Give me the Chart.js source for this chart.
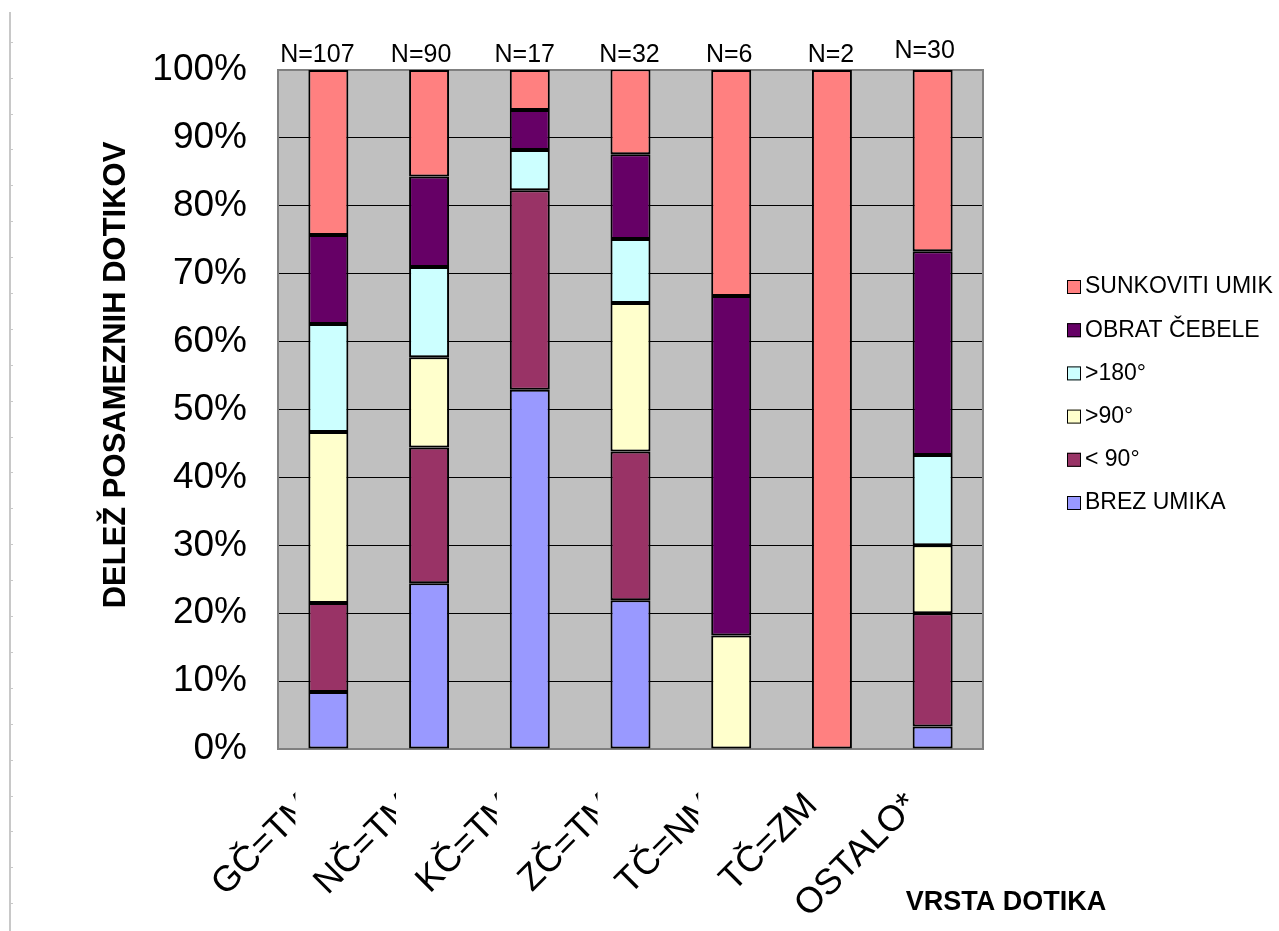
<!DOCTYPE html>
<html>
<head>
<meta charset="utf-8">
<script src="https://cdn.jsdelivr.net/npm/chart.js@4.4.1/dist/chart.umd.min.js"></script>
<style>
  html, body { margin: 0; padding: 0; background: #ffffff; }
  #wrap { position: relative; width: 1279px; height: 931px; }
</style>
</head>
<body>
<div id="wrap"><canvas id="c" width="1279" height="931"></canvas></div>
<script>
// ---- data ----
const categories = ['GČ=TM', 'NČ=TM', 'KČ=TM', 'ZČ=TM', 'TČ=NM', 'TČ=ZM', 'OSTALO*'];
const nCounts = [107, 90, 17, 32, 6, 2, 30];
const seriesNames = ['BREZ UMIKA', '< 90°', '>90°', '>180°', 'OBRAT ČEBELE', 'SUNKOVITI UMIK'];
const brezUmika = [8.4, 24.4, 52.9, 21.9, 0, 0, 3.3];
const manj90 = [13.1, 20.0, 29.4, 21.9, 0, 0, 16.7];
const vec90 = [25.2, 13.3, 0, 21.9, 16.7, 0, 10.0];
const vec180 = [15.9, 13.3, 5.9, 9.4, 0, 0, 13.3];
const obratCebele = [13.1, 13.3, 5.9, 12.5, 50.0, 0, 30.0];
const sunkovitiUmik = [24.3, 15.7, 5.9, 12.5, 33.3, 100, 26.7];
const yTicks = [0, 10, 20, 30, 40, 50, 60, 70, 80, 90, 100];

// ---- styles / layout ----
const FONT = '"Liberation Sans", Arial, sans-serif';
const colors = ['#9999FF', '#993366', '#FFFFCC', '#CCFFFF', '#660066', '#FF8080'];
const seriesData = [brezUmika, manj90, vec90, vec180, obratCebele, sunkovitiUmik];
const PLOT = { left: 278, top: 70, right: 983, bottom: 749 };
const nLabelDx = [-11, -8, -5, -1, -2, -1, -8];
const nLabelDy = [0, 0, 0, 0, 0, 0, -4];
const xLabelClip = [true, true, true, true, true, false, false];

Chart.defaults.font.family = FONT;
Chart.defaults.color = '#000000';

const decor = {
  id: 'decor',
  beforeDraw(chart) {
    const ctx = chart.ctx;
    ctx.save();
    ctx.fillStyle = '#ffffff';
    ctx.fillRect(0, 0, chart.width, chart.height);
    const a = chart.chartArea;
    ctx.fillStyle = '#C0C0C0';
    ctx.fillRect(a.left, a.top, a.right - a.left, a.bottom - a.top);
    // page ruler at left
    ctx.fillStyle = '#c8c8c8';
    ctx.fillRect(9, 12, 2, chart.height - 12);
    for (let y = 41.7; y < chart.height; y += 35.9) {
      ctx.fillRect(11, Math.round(y), 2, 1);
    }
    ctx.restore();
  },
  beforeDatasetsDraw(chart) {
    const ctx = chart.ctx;
    const a = chart.chartArea;
    ctx.save();
    ctx.strokeStyle = '#808080';
    ctx.lineWidth = 2;
    ctx.strokeRect(a.left, a.top, a.right - a.left, a.bottom - a.top);
    ctx.restore();
  },
  afterDraw(chart) {
    const ctx = chart.ctx;
    const xs = chart.scales.x;
    const a = chart.chartArea;
    ctx.save();
    // N labels
    ctx.fillStyle = '#000';
    ctx.font = '25px ' + FONT;
    ctx.textAlign = 'center';
    ctx.textBaseline = 'alphabetic';
    nCounts.forEach((n, i) => {
      ctx.fillText('N=' + n, xs.getPixelForValue(i) + nLabelDx[i], a.top - 8 + nLabelDy[i]);
    });
    // rotated category labels
    ctx.font = '36px ' + FONT;
    categories.forEach((lab, i) => {
      const cx = xs.getPixelForValue(i);
      ctx.save();
      if (xLabelClip[i]) {
        ctx.beginPath();
        ctx.rect(cx - 250, a.bottom, 250 - 33, chart.height - a.bottom);
        ctx.clip();
      }
      ctx.translate(cx - 20, 800);
      ctx.rotate(-Math.PI / 4);
      ctx.textAlign = 'right';
      ctx.textBaseline = 'middle';
      ctx.fillText(lab, 0, 0);
      ctx.restore();
    });
    // axis titles
    ctx.font = 'bold 31px ' + FONT;
    ctx.save();
    ctx.translate(116, 375);
    ctx.rotate(-Math.PI / 2);
    ctx.textAlign = 'center';
    ctx.textBaseline = 'middle';
    ctx.fillText('DELEŽ POSAMEZNIH DOTIKOV', 0, 0);
    ctx.restore();
    ctx.font = 'bold 27px ' + FONT;
    ctx.textAlign = 'center';
    ctx.textBaseline = 'middle';
    ctx.fillText('VRSTA DOTIKA', 1006, 903);
    // legend (reverse order)
    ctx.font = '23px ' + FONT;
    ctx.textAlign = 'left';
    ctx.textBaseline = 'middle';
    const ds = chart.data.datasets;
    for (let k = 0; k < ds.length; k++) {
      const d = ds[ds.length - 1 - k];
      const y = 287 + k * 43.2;
      ctx.fillStyle = d.backgroundColor;
      ctx.fillRect(1067, y - 7, 14, 14);
      ctx.strokeStyle = '#000';
      ctx.lineWidth = 1;
      ctx.strokeRect(1067.5, y - 6.5, 13, 13);
      ctx.fillStyle = '#000';
      ctx.fillText(d.label, 1085, y);
    }
    ctx.restore();
  }
};

new Chart(document.getElementById('c'), {
  type: 'bar',
  data: {
    labels: categories,
    datasets: seriesNames.map((name, i) => ({
      label: name,
      data: seriesData[i],
      backgroundColor: colors[i],
      borderColor: '#000000',
      borderWidth: 2,
      borderSkipped: false,
      barPercentage: 0.397,
      categoryPercentage: 1.0
    }))
  },
  options: {
    responsive: false,
    animation: false,
    events: [],
    layout: { padding: { left: 0, top: PLOT.top, right: 1279 - PLOT.right, bottom: 0 } },
    plugins: { legend: { display: false }, tooltip: { enabled: false } },
    scales: {
      x: {
        stacked: true,
        grid: { display: false },
        border: { display: false },
        ticks: { display: false },
        afterFit(s) { s.height = 931 - PLOT.bottom; }
      },
      y: {
        stacked: true,
        min: 0,
        max: 100,
        afterBuildTicks(s) { s.ticks = yTicks.map(v => ({ value: v })); },
        ticks: {
          padding: 31,
          font: { size: 37, family: FONT },
          color: '#000',
          callback: v => v + '%'
        },
        grid: { color: '#000000', lineWidth: 1, drawTicks: false },
        border: { display: false },
        afterFit(s) { s.width = PLOT.left; }
      }
    }
  },
  plugins: [decor]
});
</script>
</body>
</html>
